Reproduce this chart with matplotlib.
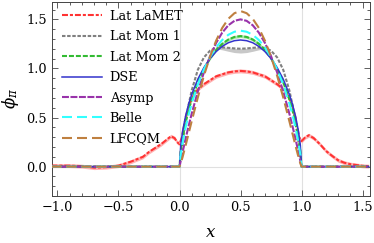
import matplotlib
matplotlib.use("Agg")
import matplotlib.pyplot as plt
import numpy as np

plt.rcParams['font.family'] = ['DejaVu Serif']
plt.rcParams['mathtext.fontset'] = 'dejavuserif'
plt.rcParams['lines.scale_dashes'] = False

# x grid on [0, 1] for the model curves
x_in = [0.0, 0.01, 0.025, 0.05, 0.075, 0.1, 0.15, 0.2, 0.25, 0.3, 0.35, 0.4, 0.45, 0.5,
        0.55, 0.6, 0.65, 0.7, 0.75, 0.8, 0.85, 0.9, 0.925, 0.95, 0.975, 0.99, 1.0]

asymp = [0.0, 0.059, 0.146, 0.285, 0.416, 0.54, 0.765, 0.96, 1.125, 1.26, 1.365, 1.44, 1.485, 1.5,
         1.485, 1.44, 1.365, 1.26, 1.125, 0.96, 0.765, 0.54, 0.416, 0.285, 0.146, 0.059, 0.0]
lfcqm = [0.0, 0.033, 0.097, 0.216, 0.340, 0.464, 0.705, 0.926, 1.120, 1.283, 1.413, 1.506, 1.563, 1.585,
         1.563, 1.506, 1.413, 1.283, 1.120, 0.926, 0.705, 0.464, 0.340, 0.216, 0.097, 0.033, 0.0]
dse = [0.0, 0.218, 0.359, 0.517, 0.637, 0.736, 0.891, 1.009, 1.101, 1.172, 1.225, 1.262, 1.283, 1.29,
       1.283, 1.262, 1.225, 1.172, 1.101, 1.009, 0.891, 0.736, 0.637, 0.517, 0.359, 0.218, 0.0]
mom2 = [0.0, 0.163, 0.293, 0.452, 0.578, 0.685, 0.859, 0.995, 1.103, 1.188, 1.251, 1.295, 1.321, 1.33,
        1.321, 1.295, 1.251, 1.188, 1.103, 0.995, 0.859, 0.685, 0.578, 0.452, 0.293, 0.163, 0.0]
belle = [0.0, 0.123, 0.242, 0.399, 0.530, 0.644, 0.836, 0.991, 1.116, 1.215, 1.290, 1.343, 1.374, 1.385,
         1.374, 1.343, 1.290, 1.215, 1.116, 0.991, 0.836, 0.644, 0.530, 0.399, 0.242, 0.123, 0.0]
mom1 = [0.0, 0.105, 0.249, 0.458, 0.633, 0.777, 0.986, 1.113, 1.181, 1.210, 1.215, 1.210, 1.204, 1.201,
        1.204, 1.210, 1.215, 1.210, 1.181, 1.113, 0.986, 0.777, 0.633, 0.458, 0.249, 0.105, 0.0]

# Lat Mom 1 band (central lens)
x_band1 = [0.276, 0.3, 0.35, 0.4, 0.45, 0.5, 0.55, 0.6, 0.65, 0.7, 0.724]
mom1_lo = [1.199, 1.200, 1.190, 1.175, 1.162, 1.157, 1.162, 1.175, 1.190, 1.200, 1.199]
mom1_hi = [1.199, 1.210, 1.215, 1.210, 1.204, 1.201, 1.204, 1.210, 1.215, 1.210, 1.199]

# Lat LaMET (quasi-distribution, extends beyond [0,1])
x_lamet = [-1.05, -1.0, -0.9, -0.8, -0.7, -0.6, -0.5, -0.4, -0.3, -0.25, -0.2, -0.15, -0.1, -0.07,
           -0.04, -0.02, 0.0, 0.02, 0.05, 0.08, 0.12, 0.16, 0.2, 0.25, 0.3, 0.35, 0.4, 0.45, 0.5,
           0.55, 0.6, 0.65, 0.7, 0.75, 0.8, 0.84, 0.88, 0.92, 0.95, 0.98, 1.0, 1.03, 1.06, 1.1,
           1.15, 1.2, 1.25, 1.3, 1.35, 1.4, 1.5, 1.55]
lamet = [0.01, 0.01, 0.01, 0.005, -0.01, -0.005, 0.01, 0.05, 0.10, 0.15, 0.19, 0.23, 0.28, 0.31,
         0.29, 0.25, 0.23, 0.30, 0.50, 0.64, 0.74, 0.80, 0.84, 0.88, 0.92, 0.94, 0.96, 0.97, 0.975,
         0.97, 0.96, 0.94, 0.92, 0.88, 0.84, 0.80, 0.74, 0.64, 0.50, 0.30, 0.26, 0.30, 0.32, 0.29,
         0.23, 0.16, 0.11, 0.065, 0.04, 0.025, 0.008, 0.005]
lamet_err = 0.02
mom2_err = 0.015

x_out_left = [-1.05, 0.0]
x_out_right = [1.0, 1.55]
zeros2 = [0.0, 0.0]

fig = plt.figure(figsize=(3.74, 2.43), dpi=100)
ax = fig.add_axes([0.139, 0.193, 0.850, 0.800])

for xv in (0.0, 1.0):
    ax.axvline(xv, color='#e0e0e0', lw=0.8, zorder=0)
ax.axhline(0.0, color='#e0e0e0', lw=0.8, zorder=0)

lw = 1.5
lam = np.array(lamet)
ax.fill_between(x_lamet, lam - lamet_err, lam + lamet_err, color='#ffb3b3', lw=0, zorder=1)
ax.fill_between(x_band1, mom1_lo, mom1_hi, color='#c8c8c8', lw=0, zorder=1)
m2 = np.array(mom2)
ax.fill_between(x_in, m2 - mom2_err, m2 + mom2_err, color='#a8e6a8', lw=0, zorder=1)

def model(xs, ys, **kw):
    line, = ax.plot(list(x_out_left) + list(xs) + list(x_out_right),
                    list(zeros2) + list(ys) + list(zeros2), **kw)
    return line

ax.plot(x_lamet, lamet, color='#ff3333', lw=lw, dashes=(4.3, 1.4, 2.2, 1.4),
        label='Lat LaMET', zorder=3)
model(x_in, mom1, color='#808080', lw=lw, dashes=(2.5, 1.2), label='Lat Mom 1', zorder=3)
model(x_in, mom2, color='#33bb33', lw=lw, dashes=(3.6, 1.4), label='Lat Mom 2', zorder=3)
model(x_in, dse, color='#3333cc', lw=1.1, label='DSE', zorder=3)
model(x_in, asymp, color='#9933aa', lw=lw, dashes=(5.0, 1.1), label='Asymp', zorder=3)
model(x_in, belle, color='#33ffff', lw=lw, dashes=(7.2, 3.6), label='Belle', zorder=3)
model(x_in, lfcqm, color='#bf8040', lw=lw, dashes=(7.2, 3.6), label='LFCQM', zorder=3)

ax.set_xlim(-1.045, 1.56)
ax.set_ylim(-0.3, 1.68)
ax.set_xticks([-1.0, -0.5, 0.0, 0.5, 1.0, 1.5])
ax.set_yticks([0.0, 0.5, 1.0, 1.5])
ax.set_xticks(np.arange(-1.0, 1.51, 0.1), minor=True)
ax.set_yticks(np.arange(-0.3, 1.61, 0.1), minor=True)
ax.tick_params(which='both', direction='in', top=True, right=True, labelsize=9.3,
               color='#444444', width=0.6)
ax.tick_params(which='major', length=4)
ax.tick_params(which='minor', length=2)
for s in ax.spines.values():
    s.set_color('#444444')
    s.set_linewidth(0.7)

ax.set_xlabel(r'$x$', fontsize=12, labelpad=7)
ax.set_ylabel(r'$\phi_\pi$', fontsize=12, labelpad=4)

ax.legend(loc='upper left', bbox_to_anchor=(0.031, 0.958), frameon=False, fontsize=9.3,
          handlelength=3.1, handletextpad=0.6, labelspacing=0.575,
          borderaxespad=0.0, borderpad=0.0)

fig.savefig('out.png', dpi=100)
